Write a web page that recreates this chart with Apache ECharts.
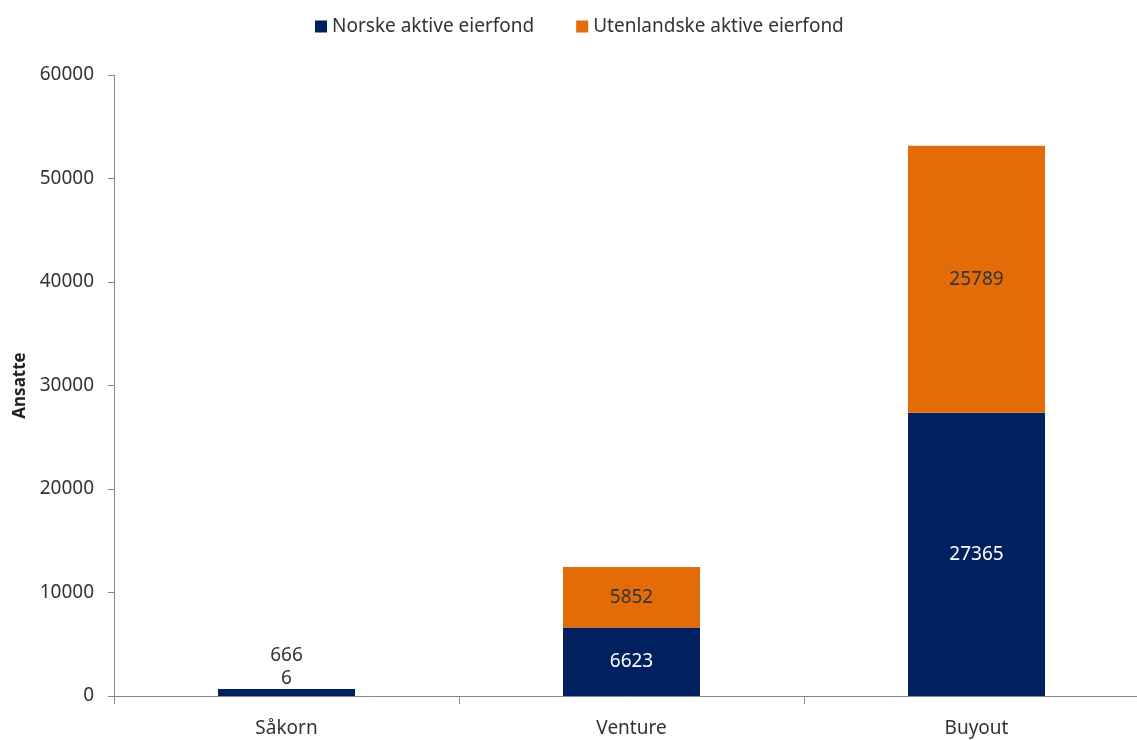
<!DOCTYPE html>
<html><head><meta charset="utf-8">
<script src="https://cdn.jsdelivr.net/npm/echarts@6/dist/echarts.min.js"></script>
<style>html,body{margin:0;padding:0;background:#fff}#c{width:1137px;height:740px}</style>
</head><body><div id="c"></div>
<script>
const categories = ['Såkorn', 'Venture', 'Buyout'];
const norske = [666, 6623, 27365];
const utenlandske = [6, 5852, 25789];
const seriesNames = ['Norske aktive eierfond', 'Utenlandske aktive eierfond'];
const yTicks = { min: 0, max: 60000, interval: 10000 };

const FONT = '"Noto Sans", sans-serif';
const chart = echarts.init(document.getElementById('c'));
chart.setOption({
  animation: false,
  textStyle: { fontFamily: FONT },
  legend: {
    top: 12, left: 310, itemWidth: 12, itemHeight: 12, itemGap: 42,
    icon: 'rect',
    textStyle: { fontSize: 19, color: '#333', fontFamily: FONT },
    data: seriesNames
  },
  grid: { left: 114, width: 1035, top: 75, bottom: 44, containLabel: false, outerBoundsMode: 'none' },
  xAxis: {
    type: 'category', data: categories,
    axisLine: { lineStyle: { color: '#888' } },
    axisTick: { show: true, length: 8, alignWithLabel: false, lineStyle: { color: '#888' } },
    axisLabel: { fontSize: 19, color: '#333', margin: 23, fontFamily: FONT }
  },
  yAxis: {
    type: 'value', min: yTicks.min, max: yTicks.max, interval: yTicks.interval,
    name: 'Ansatte', nameLocation: 'middle', nameGap: 84, nameRotate: 90,
    nameTextStyle: { fontSize: 17, fontWeight: 'bold', color: '#222', fontFamily: FONT },
    axisLine: { show: true, lineStyle: { color: '#888' } },
    axisTick: { show: true, length: 6, lineStyle: { color: '#888' } },
    splitLine: { show: false },
    axisLabel: { fontSize: 19, color: '#333', margin: 20, fontFamily: FONT, formatter: v => String(v) }
  },
  series: [
    {
      name: seriesNames[0], type: 'bar', stack: 's', barWidth: 137,
      itemStyle: { color: '#002060' },
      data: norske.map((v, i) => i === 0 ? {
        value: v,
        label: { position: 'top', offset: [0, -19], color: '#333' }
      } : v),
      label: { show: true, position: 'inside', color: '#fff', fontSize: 19, fontFamily: FONT }
    },
    {
      name: seriesNames[1], type: 'bar', stack: 's', barWidth: 137,
      itemStyle: { color: '#E36C09' },
      data: utenlandske.map((v, i) => i === 0 ? {
        value: v,
        label: { position: 'top', offset: [0, 4], color: '#333' }
      } : v),
      label: { show: true, position: 'inside', color: '#333', fontSize: 19, fontFamily: FONT }
    }
  ]
});
</script></body></html>
